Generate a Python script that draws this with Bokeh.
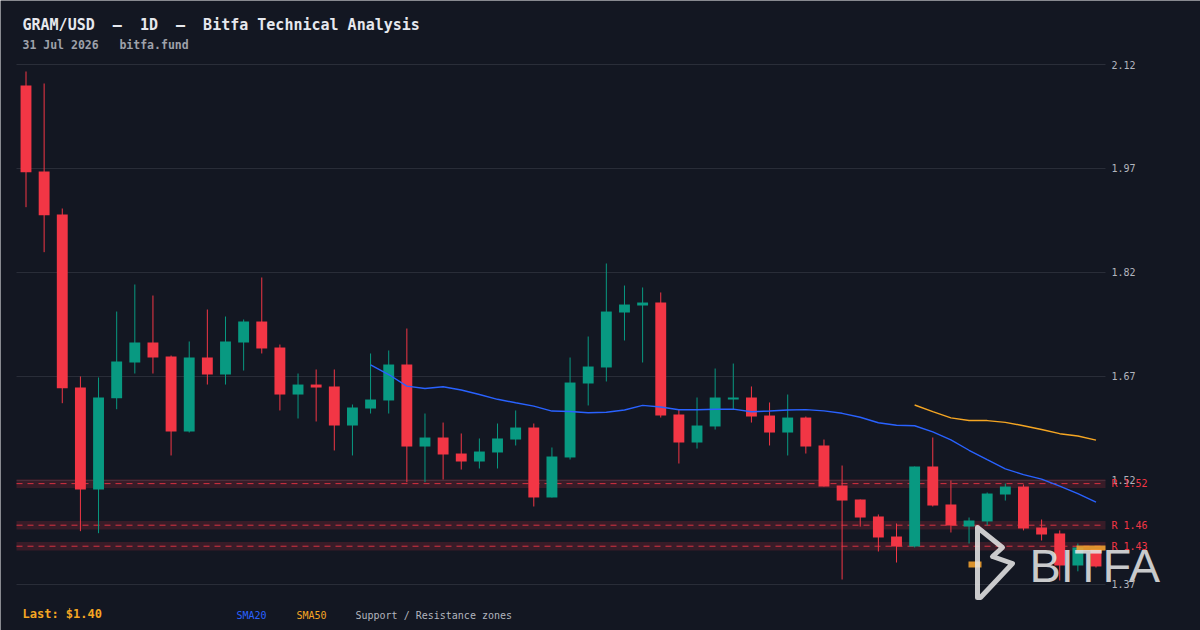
import pandas as pd
from bokeh.plotting import figure
from bokeh.models import (ColumnDataSource, Label, BoxAnnotation, PolyAnnotation, Range1d)
from bokeh.embed import file_html
from bokeh.resources import INLINE

# ---------------- data ----------------
opens = [2.0897, 1.9657, 1.9036, 1.6541, 1.5070, 1.6387, 1.6902, 1.7190, 1.6988, 1.5907,
         1.6974, 1.6729, 1.7190, 1.7493, 1.7118, 1.6440, 1.6584, 1.6556, 1.5993, 1.6238,
         1.6354, 1.6873, 1.5690, 1.5820, 1.5589, 1.5474, 1.5604, 1.5791, 1.5964, 1.4955,
         1.5532, 1.6599, 1.6830, 1.7623, 1.7724, 1.7767, 1.6152, 1.5748, 1.5979, 1.6368,
         1.6397, 1.6137, 1.5892, 1.6108, 1.5705, 1.5128, 1.4926, 1.4681, 1.4392, 1.4248,
         1.5402, 1.4854, 1.4536, 1.4609, 1.4998, 1.5113, 1.4522, 1.4436, 1.3974, 1.4210]
highs = [2.1099, 2.0926, 1.9123, 1.6700, 1.6686, 1.7637, 1.8027, 1.7868, 1.7003, 1.7205,
         1.7666, 1.7565, 1.7522, 1.8128, 1.7161, 1.6743, 1.6801, 1.6801, 1.6296, 1.7032,
         1.7075, 1.7392, 1.6166, 1.6036, 1.5878, 1.5806, 1.6022, 1.6210, 1.6022, 1.5676,
         1.6974, 1.7277, 1.8330, 1.8012, 1.7984, 1.7912, 1.6224, 1.6397, 1.6815, 1.6887,
         1.6556, 1.6325, 1.6440, 1.6123, 1.5791, 1.5416, 1.4926, 1.4710, 1.4580, 1.5402,
         1.5820, 1.5200, 1.4666, 1.5027, 1.5157, 1.5142, 1.4637, 1.4480, 1.4291, 1.4210]
lows = [1.9142, 1.8493, 1.6315, 1.4469, 1.4440, 1.6228, 1.6743, 1.6743, 1.5561, 1.5892,
        1.6584, 1.6584, 1.6786, 1.7032, 1.6210, 1.6094, 1.6051, 1.5633, 1.5561, 1.6166,
        1.6166, 1.5175, 1.5175, 1.5214, 1.5358, 1.5373, 1.5373, 1.5705, 1.4825, 1.4955,
        1.5503, 1.6282, 1.6628, 1.7219, 1.6902, 1.6108, 1.5445, 1.5661, 1.5935, 1.6224,
        1.6036, 1.5705, 1.5561, 1.5589, 1.5113, 1.3772, 1.4536, 1.4176, 1.4017, 1.4234,
        1.4825, 1.4450, 1.4291, 1.4551, 1.4911, 1.4480, 1.4334, 1.3758, 1.3890, 1.3945]
closes = [1.9647, 1.9027, 1.6532, 1.5070, 1.6397, 1.6916, 1.7190, 1.6974, 1.5907, 1.6974,
          1.6729, 1.7205, 1.7493, 1.7104, 1.6440, 1.6584, 1.6541, 1.5993, 1.6253, 1.6368,
          1.6873, 1.5690, 1.5820, 1.5575, 1.5474, 1.5618, 1.5806, 1.5964, 1.4955, 1.5546,
          1.6613, 1.6844, 1.7637, 1.7738, 1.7767, 1.6137, 1.5748, 1.5993, 1.6397, 1.6397,
          1.6123, 1.5892, 1.6108, 1.5690, 1.5113, 1.4911, 1.4666, 1.4378, 1.4248, 1.5402,
          1.4839, 1.4551, 1.4623, 1.5012, 1.5113, 1.4508, 1.4421, 1.3974, 1.4234, 1.3960]
zone_levels = [1.5155, 1.4555, 1.4252]
y_ticks = [1.37, 1.52, 1.67, 1.82, 1.97, 2.12]
NB = "\u00a0"
title_text = "GRAM/USD" + NB * 2 + "\u2014" + NB * 2 + "1D" + NB * 2 + "\u2014" + NB * 2 + "Bitfa Technical Analysis"
subtitle_text = "31 Jul 2026" + NB * 3 + "bitfa.fund"
last_text = "Last: $1.40"

# ---------------- styles ----------------
BG = "#131722"
RED = "#f23645"
GREEN = "#089981"
MONO = "DejaVu Sans Mono"
W, H = 1200, 630

n = len(closes)
idx = list(range(n))
up = [c >= o for o, c in zip(opens, closes)]
src = ColumnDataSource(dict(
    x=idx, o=opens, h=highs, l=lows, c=closes,
    top=[max(o, c) for o, c in zip(opens, closes)],
    bot=[min(o, c) for o, c in zip(opens, closes)],
    color=[GREEN if u else RED for u in up],
))
s = pd.Series(closes)
sma20 = s.rolling(20).mean()
sma50 = s.rolling(50).mean()

# pixel geometry of the price panel (page pixels)
PX_PER_BAR = 18.1356
X0_PIX = 25.5           # centre of first candle
PX_PER_UNIT = 693.33
Y_REF_PIX, Y_REF_VAL = 64.0, 2.12

def dx(X):
    return (X - X0_PIX) / PX_PER_BAR

def dy(Y):
    return Y_REF_VAL - (Y - Y_REF_PIX) / PX_PER_UNIT

def sx(X):
    return X

def sy(Y):
    return H - Y

PANEL_L, PANEL_R = dx(16), dx(1105)

p = figure(width=W, height=H, output_backend="svg", toolbar_location=None,
           x_axis_location=None, y_axis_location=None, title_location=None,
           x_range=Range1d(dx(0), dx(W)), y_range=Range1d(dy(H), dy(0)),
           min_border=0, min_border_left=0, min_border_right=0,
           min_border_top=0, min_border_bottom=0,
           background_fill_color=BG, border_fill_color=BG, outline_line_color=None)
p.xgrid.visible = False
p.ygrid.visible = False

# horizontal grid lines at the price ticks
p.segment(x0=[PANEL_L] * len(y_ticks), x1=[PANEL_R] * len(y_ticks), y0=y_ticks, y1=y_ticks,
          line_color="#2a2e39", line_width=1)

# support / resistance zones
ZH = 0.0062
p.quad(left=[PANEL_L] * len(zone_levels), right=[PANEL_R] * len(zone_levels),
       bottom=[v - ZH for v in zone_levels], top=[v + ZH for v in zone_levels],
       fill_color=RED, fill_alpha=0.17, line_color=None)
p.segment(x0=[PANEL_L] * len(zone_levels), x1=[PANEL_R] * len(zone_levels),
          y0=zone_levels, y1=zone_levels, line_color=RED, line_alpha=0.85,
          line_width=1, line_dash="6 5")

# candles
p.segment(x0="x", y0="l", x1="x", y1="h", color="color", line_width=1, source=src)
p.vbar(x="x", width=0.6, top="top", bottom="bot", fill_color="color", line_color=None, source=src)

# SMAs
p.line(idx, sma20.tolist(), line_color="#2962ff", line_width=1.4)
p.line(idx, sma50.tolist(), line_color="#f5a623", line_width=1.4)

# orange markers
for (l, r, t, b) in [(968, 981, 561, 567), (1076, 1105, 545, 550)]:
    p.add_layout(BoxAnnotation(left=sx(l), right=sx(r), top=sy(t), bottom=sy(b),
                               left_units="screen", right_units="screen",
                               top_units="screen", bottom_units="screen",
                               fill_color="#f0a030", fill_alpha=0.9, line_color=None))

# watermark logo
icon_x = [977, 1002, 992, 1012, 980, 977]
icon_y = [527, 547, 556, 563, 597, 597]
p.add_layout(PolyAnnotation(xs=[sx(v) for v in icon_x], ys=[sy(v) for v in icon_y],
                            xs_units="screen", ys_units="screen",
                            fill_alpha=0, line_color="#e4e4e4", line_alpha=0.88,
                            line_width=5, line_join="round"))
p.add_layout(Label(x=sx(1029), y=sy(564.5), x_units="screen", y_units="screen", text="BITFA",
                   text_font="Liberation Sans", text_font_size="47px",
                   text_color="#e4e4e4", text_alpha=0.88, text_baseline="middle"))

# y tick labels
for t in y_ticks:
    p.add_layout(Label(x=sx(1111), y=t, x_units="screen", y_units="data",
                       text=f"{t:.2f}", text_font=MONO, text_font_size="10px",
                       text_color="#b2b5be", text_baseline="middle", text_align="left"))

# zone labels
for lvl in zone_levels:
    p.add_layout(Label(x=sx(1111), y=lvl, x_units="screen", y_units="data",
                       text=f"R {lvl:.2f}", text_font=MONO, text_font_size="10px",
                       text_color=RED, text_baseline="middle", text_align="left"))

# titles
p.add_layout(Label(x=sx(22), y=sy(24.5), x_units="screen", y_units="screen", text=title_text,
                   text_font=MONO, text_font_size="15px", text_font_style="bold",
                   text_color="#e6e8ee", text_baseline="middle"))
p.add_layout(Label(x=sx(22), y=sy(44.5), x_units="screen", y_units="screen", text=subtitle_text,
                   text_font=MONO, text_font_size="11.5px", text_font_style="bold",
                   text_color="#9ea1aa", text_baseline="middle"))

# footer
p.add_layout(Label(x=sx(22), y=sy(613), x_units="screen", y_units="screen", text=last_text,
                   text_font=MONO, text_font_size="12px", text_font_style="bold",
                   text_color="#f5a623", text_baseline="middle"))
for X, t, col in [(236, "SMA20", "#2962ff"), (296, "SMA50", "#f5a623"),
                  (355, "Support / Resistance zones", "#b2b5be")]:
    p.add_layout(Label(x=sx(X), y=sy(615), x_units="screen", y_units="screen", text=t,
                       text_font=MONO, text_font_size="10px", text_color=col,
                       text_baseline="middle"))

html = file_html(p, INLINE)
html = html.replace("<body>", '<body style="background:%s;">' % BG, 1)
open("out.html", "w").write(html)
